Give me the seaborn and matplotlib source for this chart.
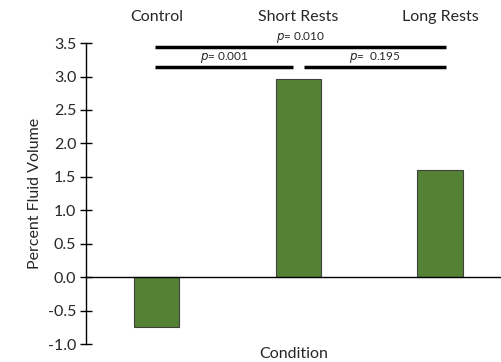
import matplotlib
matplotlib.use("Agg")
import matplotlib.pyplot as plt
import seaborn as sns
import pandas as pd

categories = ["Control", "Short Rests", "Long Rests"]
values = [-0.75, 2.96, 1.60]
yticks = [-1.0, -0.5, 0.0, 0.5, 1.0, 1.5, 2.0, 2.5, 3.0, 3.5]
comparisons = [(0, 2, 3.44, "0.010"), (0, 1, 3.14, "0.001"), (1, 2, 3.14, " 0.195")]

sns.set_style("white")
plt.rcParams['font.family'] = ['Lato', 'DejaVu Sans']

df = pd.DataFrame({"Condition": categories, "Value": values})

fig = plt.figure(figsize=(5.01, 3.62), dpi=100)
ax = fig.add_axes([0.1717, 0.0497, 0.8283, 0.8313])
sns.barplot(data=df, x="Condition", y="Value", color="#548235", saturation=1,
            width=0.32, edgecolor="#404040", linewidth=0.8, ax=ax)

ax.set_ylim(-1.0, 3.5)
ax.set_xlim(-0.5, 2.43)
ax.set_yticks(yticks)
ax.set_yticklabels([f"{t:.1f}" for t in yticks], fontsize=11.5)
ax.tick_params(axis='y', left=True, direction='inout', length=8, width=1, color='black', pad=3)
ax.xaxis.tick_top()
ax.xaxis.set_label_position('bottom')
ax.tick_params(axis='x', length=0, labelsize=11.5, pad=14)
for s in ['top', 'right', 'bottom']:
    ax.spines[s].set_visible(False)
ax.spines['left'].set_color('black')
ax.spines['left'].set_linewidth(1)
ax.axhline(0, color='black', linewidth=1, zorder=5)
ax.set_ylabel("Percent Fluid Volume", fontsize=11.5, labelpad=4)
ax.set_xlabel("Condition", fontsize=11.5, labelpad=2)

gap = 0.04
for a, b, y, p in comparisons:
    x0 = a - 0.01 if a == 0 else a + gap
    x1 = b + 0.04 if b == 2 else b - gap
    ax.plot([x0, x1], [y, y], color='black', linewidth=2.5, solid_capstyle='butt', clip_on=False)
    ax.text((x0 + x1) / 2, y + 0.025, f"$\\it{{p}}$= {p}", ha='center', va='bottom', fontsize=8.5)

fig.savefig("out.png", dpi=100)
